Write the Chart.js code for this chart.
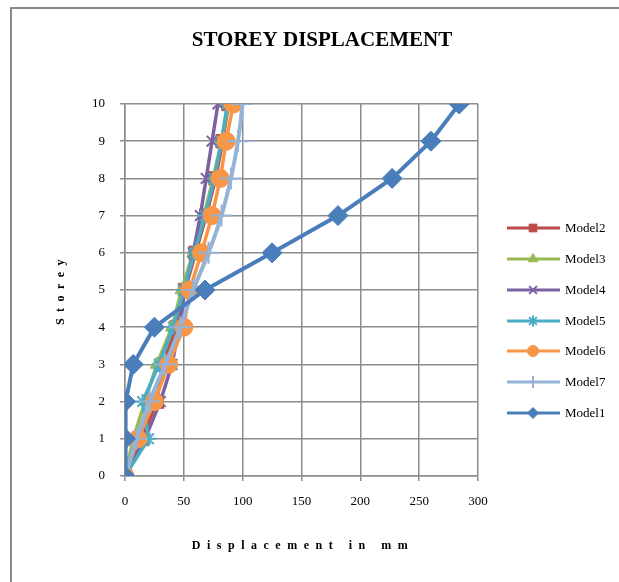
<!DOCTYPE html>
<html>
<head>
<meta charset="utf-8">
<script src="https://cdn.jsdelivr.net/npm/chart.js@4/dist/chart.umd.min.js"></script>
<style>
  html, body { margin: 0; padding: 0; background: #fff; }
  #wrap { width: 619px; height: 582px; }
</style>
</head>
<body>
<div id="wrap"><canvas id="storeyChart" width="619" height="582"></canvas></div>
<script>
// storey levels and displacement (mm) for each model
const storeys = [0, 1, 2, 3, 4, 5, 6, 7, 8, 9, 10];
const model1 = [0, 0.5, 0.5, 7, 25, 68, 125, 181, 227, 260, 284];
const model2 = [0, 14, 27, 32, 44, 51, 60, 69, 77, 83, 88];
const model3 = [0, 7, 17, 27, 40, 48, 58, 67, 75, 82, 88];
const model4 = [0, 17, 30, 40, 46, 51, 58, 64, 69, 74, 79];
const model5 = [0, 20, 15, 29, 41, 50, 59, 68, 76, 82, 87];
const model6 = [0, 11, 25, 37, 50, 55, 65, 74, 81, 86, 92];
const model7 = [0, 10, 21, 34, 47, 58, 71, 82, 90, 96, 100];
const xTicks = [0, 50, 100, 150, 200, 250, 300];

const FONT = "'Liberation Serif', 'Times New Roman', serif";
const GRID = '#8c8c8c';

function pts(values) {
  return values.map((v, i) => ({ x: v, y: storeys[i] }));
}

function series(label, values, color, style, radius, order, extra) {
  return Object.assign({
    label,
    data: pts(values),
    showLine: true,
    borderColor: color,
    backgroundColor: color,
    borderWidth: 3.5,
    pointStyle: style,
    pointRadius: radius,
    pointBorderColor: color,
    pointBackgroundColor: color,
    pointBorderWidth: 1,
    order
  }, extra || {});
}

const datasets = [
  series('Model2', model2, '#BE4B48', 'rect', 9.5, 6),
  series('Model3', model3, '#98B954', 'triangle', 7.5, 5),
  series('Model4', model4, '#7D60A0', 'crossRot', 7.5, 4, { pointBorderWidth: 2 }),
  series('Model5', model5, '#4BACC6', 'star', 7.5, 3, { pointBorderWidth: 2 }),
  series('Model6', model6, '#F79646', 'circle', 9, 2),
  series('Model7', model7, '#95B3D7', 'cross', 11, 1, { pointBorderWidth: 2, borderWidth: 4, tension: 0.35 }),
  series('Model1', model1, '#4A7EBB', 'rectRot', 10, 0, { borderWidth: 4 })
];

// title, frame, axis titles and legend drawn by hand
const decor = {
  id: 'decor',
  beforeDraw(chart) {
    const c = chart.ctx;
    c.save();
    c.fillStyle = '#fff';
    c.fillRect(0, 0, chart.width, chart.height);
    c.strokeStyle = '#8a8a8a';
    c.lineWidth = 2;
    c.strokeRect(11, 8, 700, 700);
    c.restore();
  },
  afterDraw(chart) {
    const c = chart.ctx;
    c.save();
    c.fillStyle = '#000';
    c.textAlign = 'center';
    c.textBaseline = 'middle';
    c.font = 'bold 21px ' + FONT;
    c.fillText('STOREY DISPLACEMENT', 322, 41);

    c.font = 'bold 12px ' + FONT;
    c.letterSpacing = '6.5px';
    c.fillText('Displacement in mm', 303, 546);
    c.translate(61, 292);
    c.rotate(-Math.PI / 2);
    c.fillText('Storey', 3, 0);
    c.restore();

    // legend
    const legendY = [228, 259, 290, 321, 351, 382, 413];
    c.save();
    datasets.forEach((ds, i) => {
      const y = legendY[i];
      c.strokeStyle = ds.borderColor;
      c.lineWidth = 3;
      c.beginPath();
      c.moveTo(507, y);
      c.lineTo(560, y);
      c.stroke();
      c.fillStyle = ds.pointBackgroundColor;
      c.strokeStyle = ds.pointBorderColor;
      c.lineWidth = ds.pointBorderWidth;
      Chart.helpers.drawPoint(c, {
        pointStyle: ds.pointStyle,
        radius: ds.pointStyle === 'cross' ? 6 : 5.5,
        rotation: 0,
        borderWidth: ds.pointBorderWidth
      }, 533, y);
      c.fillStyle = '#000';
      c.font = '13px ' + FONT;
      c.textAlign = 'left';
      c.textBaseline = 'middle';
      c.fillText(ds.label, 565, y + 1);
    });
    c.restore();
  }
};

new Chart(document.getElementById('storeyChart'), {
  type: 'scatter',
  data: { datasets },
  plugins: [decor],
  options: {
    responsive: false,
    animation: false,
    layout: { padding: { left: 0, top: 104, right: 141, bottom: 0 } },
    plugins: {
      legend: { display: false },
      title: { display: false },
      tooltip: { enabled: false }
    },
    scales: {
      x: {
        type: 'linear',
        min: 0,
        max: 300,
        afterFit: s => { s.height = 106; },
        afterBuildTicks: s => { s.ticks = xTicks.map(v => ({ value: v })); },
        grid: { color: GRID, lineWidth: 1.5, tickLength: 5, tickColor: GRID },
        border: { color: GRID, width: 1.5 },
        ticks: { padding: 13, color: '#000', font: { family: FONT, size: 13 }, maxRotation: 0 }
      },
      y: {
        type: 'linear',
        min: 0,
        max: 10,
        afterFit: s => { s.width = 125; },
        grid: { color: GRID, lineWidth: 1.5, tickLength: 5, tickColor: GRID },
        border: { color: GRID, width: 1.5 },
        ticks: { stepSize: 1, padding: 15, color: '#000', font: { family: FONT, size: 13 } }
      }
    }
  }
});
</script>
</body>
</html>
